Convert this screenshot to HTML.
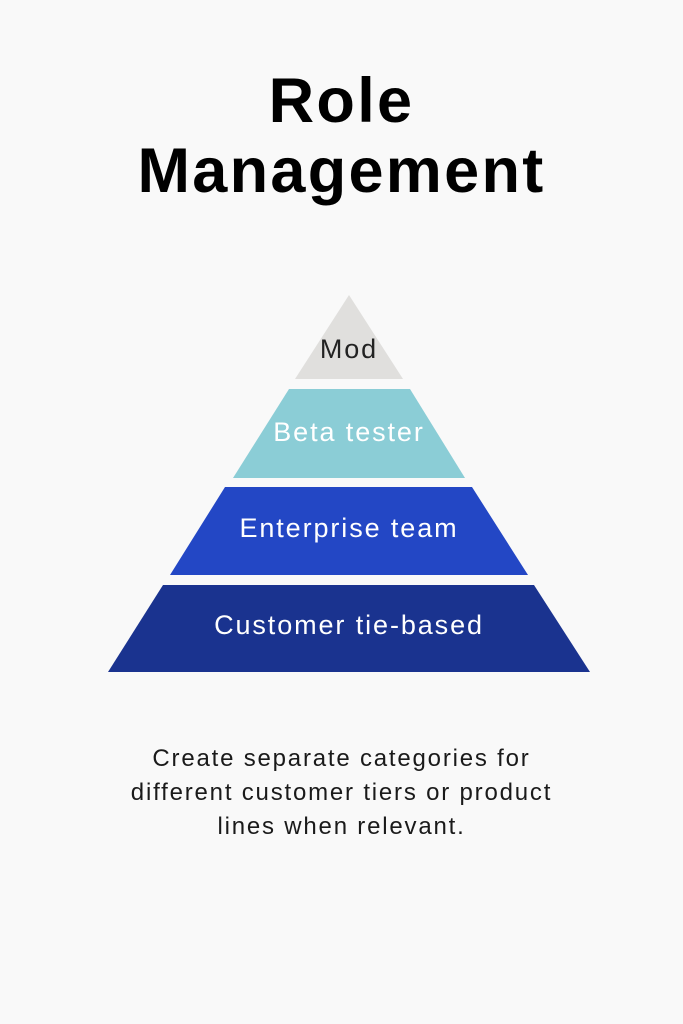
<!DOCTYPE html>
<html><head><style>
html,body{margin:0;padding:0;background:#f9f9f9;}
body{width:683px;height:1024px;position:relative;font-family:"Liberation Sans",sans-serif;}
.t{position:absolute;left:0;width:683px;text-align:center;font-weight:bold;font-size:63px;color:#000;letter-spacing:2.3px;}
.b{position:absolute;left:0;width:683px;text-align:center;font-size:24px;color:#1a1a1a;line-height:34px;top:742px;letter-spacing:1.8px;}
</style></head><body>
<div class="t" style="top:66px;line-height:70px">Role<br>Management</div>
<svg width="683" height="1024" style="position:absolute;left:0;top:0" font-family="Liberation Sans, sans-serif" font-size="27" letter-spacing="1.9" text-anchor="middle">
<polygon points="349,295 403,379 295,379" fill="#e0dfdd"/>
<polygon points="289,389 410,389 465,478 233,478" fill="#8bcdd6"/>
<polygon points="225,487 472,487 528,575 170,575" fill="#2347c5"/>
<polygon points="163,585 534,585 590,672 108,672" fill="#1a338f"/>
<text x="349" y="358" fill="#222">Mod</text>
<text x="349" y="441" fill="#fff">Beta tester</text>
<text x="349" y="537" fill="#fff">Enterprise team</text>
<text x="349" y="634" fill="#fff">Customer tie-based</text>
</svg>
<div class="b">Create separate categories for<br>different customer tiers or product<br>lines when relevant.</div>
</body></html>
